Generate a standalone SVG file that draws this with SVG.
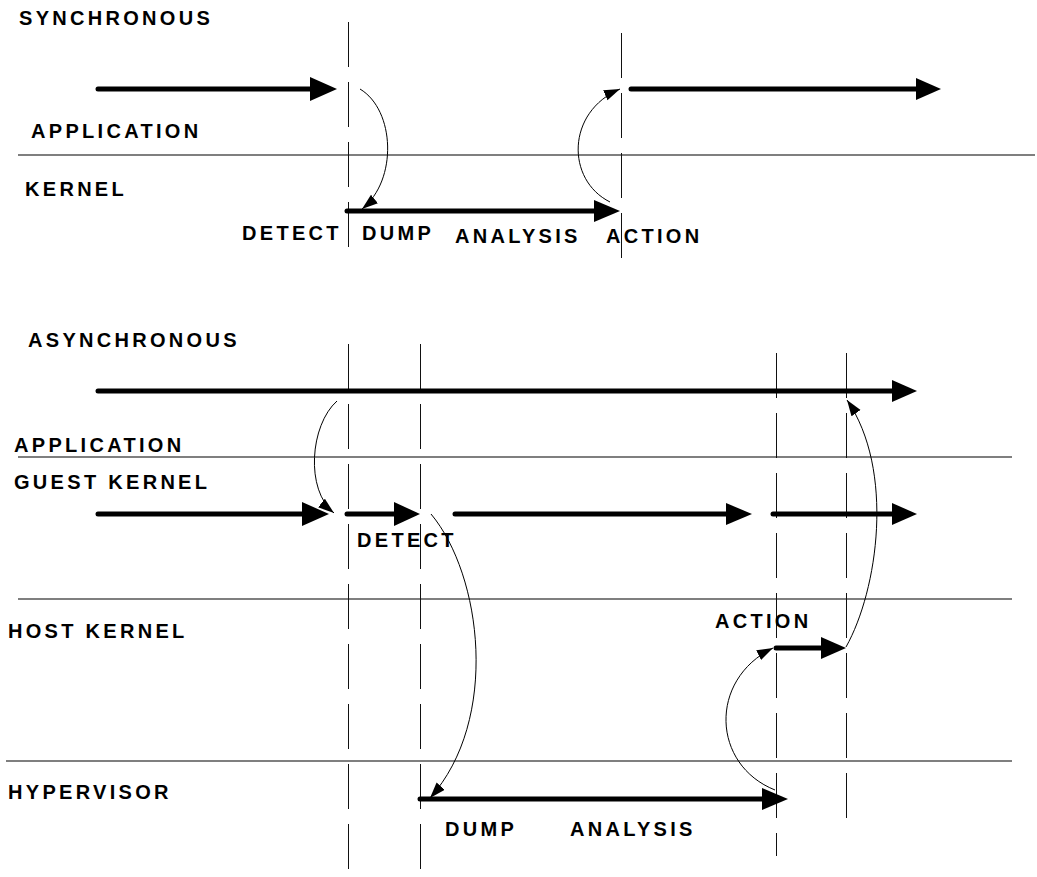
<svg xmlns="http://www.w3.org/2000/svg" width="1037" height="877" viewBox="0 0 1037 877">
<style>
.lbl{font-family:"Liberation Sans",Arial,sans-serif;font-weight:bold;font-size:20px;letter-spacing:3.3px;fill:#000}
.thick{stroke:#000;stroke-width:5;stroke-linecap:round;fill:none}
.head{fill:#000}
.thin{stroke:#000;stroke-width:1;fill:none;marker-end:url(#sm)}
.lane{stroke:#555;stroke-width:1.5}
.vd{stroke:#111;stroke-width:1;stroke-dasharray:45 15}
</style>
<defs>
<marker id="sm" markerUnits="userSpaceOnUse" markerWidth="17" markerHeight="12" refX="16" refY="5.5" orient="auto"><path d="M0,0 L16,5.5 L0,11 z" fill="#000"/></marker>
</defs>
<rect width="1037" height="877" fill="#fff"/>
<g id="lanes">
<line class="lane" x1="18" y1="155" x2="1035" y2="155"/>
<line class="lane" x1="18" y1="457" x2="1012" y2="457"/>
<line class="lane" x1="18" y1="599" x2="1012" y2="599"/>
<line class="lane" x1="6" y1="761" x2="1012" y2="761"/>
</g>
<g id="timelines">
<line class="vd" x1="348.5" y1="22" x2="348.5" y2="254"/>
<line class="vd" x1="621.5" y1="33" x2="621.5" y2="259"/>
<line class="vd" x1="348.5" y1="344" x2="348.5" y2="875"/>
<line class="vd" x1="420.5" y1="344" x2="420.5" y2="875"/>
<line class="vd" x1="776.5" y1="353" x2="776.5" y2="856"/>
<line class="vd" x1="846.5" y1="353" x2="846.5" y2="830"/>
</g>
<g id="labels">
<text class="lbl" x="19" y="25">SYNCHRONOUS</text>
<text class="lbl" x="31" y="138">APPLICATION</text>
<text class="lbl" x="25" y="196">KERNEL</text>
<text class="lbl" x="242" y="240">DETECT</text>
<text class="lbl" x="362" y="240">DUMP</text>
<text class="lbl" x="455" y="243">ANALYSIS</text>
<text class="lbl" x="606" y="243">ACTION</text>
<text class="lbl" x="28" y="347">ASYNCHRONOUS</text>
<text class="lbl" x="14" y="452">APPLICATION</text>
<text class="lbl" x="14" y="489">GUEST KERNEL</text>
<text class="lbl" x="357" y="547">DETECT</text>
<text class="lbl" x="8" y="638">HOST KERNEL</text>
<text class="lbl" x="715" y="628">ACTION</text>
<text class="lbl" x="8" y="799">HYPERVISOR</text>
<text class="lbl" x="445" y="836">DUMP</text>
<text class="lbl" x="570" y="836">ANALYSIS</text>
</g>
<g id="flows">
<g id="sync-app-1"><line class="thick" x1="98" y1="89" x2="312" y2="89"/><polygon class="head" points="310,77 337,89 310,101"/></g>
<g id="sync-kernel"><line class="thick" x1="347" y1="211" x2="596" y2="211"/><polygon class="head" points="594,200 620,211 594,222"/></g>
<g id="sync-app-2"><line class="thick" x1="631" y1="89" x2="918" y2="89"/><polygon class="head" points="916,78 941,89 916,100"/></g>
<g id="async-app"><line class="thick" x1="98" y1="391" x2="894" y2="391"/><polygon class="head" points="892,380 917,391 892,402"/></g>
<g id="guest-1"><line class="thick" x1="98" y1="514" x2="304" y2="514"/><polygon class="head" points="302,502 329,514 302,526"/></g>
<g id="guest-2"><line class="thick" x1="347" y1="514" x2="396" y2="514"/><polygon class="head" points="394,502 420,514 394,526"/></g>
<g id="guest-3"><line class="thick" x1="455" y1="514" x2="728" y2="514"/><polygon class="head" points="726,503 752,514 726,525"/></g>
<g id="guest-4"><line class="thick" x1="773" y1="514" x2="894" y2="514"/><polygon class="head" points="892,503 917,514 892,525"/></g>
<g id="host-action"><line class="thick" x1="776" y1="648" x2="823" y2="648"/><polygon class="head" points="821,637 846,648 821,659"/></g>
<g id="hyper"><line class="thick" x1="420" y1="799" x2="764" y2="799"/><polygon class="head" points="762,788 788,799 762,810"/></g>
</g>
<g id="connectors">
<path class="thin" d="M360,89 C395,110 398,180 362,209"/>
<path class="thin" d="M610,202 C566,180 566,112 620,89"/>
<path class="thin" d="M337,401 C310,425 305,490 334,513"/>
<path class="thin" d="M431,514 C482,575 500,720 430,798"/>
<path class="thin" d="M775,790 C712,765 708,680 773,648"/>
<path class="thin" d="M846,647 C878,590 895,470 847,400"/>
</g>
</svg>
